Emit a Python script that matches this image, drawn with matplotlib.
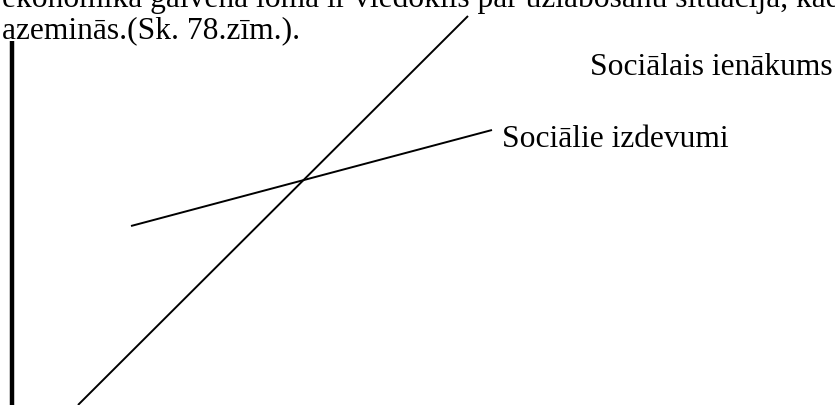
import matplotlib.pyplot as plt

plt.rcParams['font.family'] = ['Liberation Serif', 'DejaVu Serif']

# vertical axis and the two curves (units: tenths of the drawing width)
axis_x = [0.0, 0.0]
axis_y = [0.0, 36.4]
income_x = [6.6, 45.6]
income_y = [0.0, 38.9]
expense_x = [11.9, 48.0]
expense_y = [17.9, 27.5]

income_label = "Sociālais ienākums"
expense_label = "Sociālie izdevumi"
text_lines = [
    "ekonomikā galvenā loma ir viedoklis par uzlabošanu situācija, kad",
    "azeminās.(Sk. 78.zīm.).",
]

fig = plt.figure(figsize=(8.35, 4.06), dpi=100)
ax = fig.add_axes([0, 0, 1, 1])
ax.set_xlim(-1.2, 82.3)
ax.set_ylim(0, 40.6)
ax.axis('off')

ax.plot(axis_x, axis_y, color='black', lw=3.2, solid_capstyle='butt')
ax.plot(income_x, income_y, color='black', lw=1.4, solid_capstyle='butt')
ax.plot(expense_x, expense_y, color='black', lw=1.4, solid_capstyle='butt')

ax.text(57.8, 33.1, income_label, fontsize=22.7, va='baseline', ha='left')
ax.text(49.0, 25.9, expense_label, fontsize=22.7, va='baseline', ha='left')

# paragraph text above the drawing, first line cut by the page edge
fig.text(0.002, (406 - 7.5) / 406, text_lines[0], fontsize=22.7, va='baseline', ha='left')
fig.text(0.002, (406 - 38) / 406, text_lines[1], fontsize=22.7, va='baseline', ha='left')

fig.savefig('out.png', dpi=100)
